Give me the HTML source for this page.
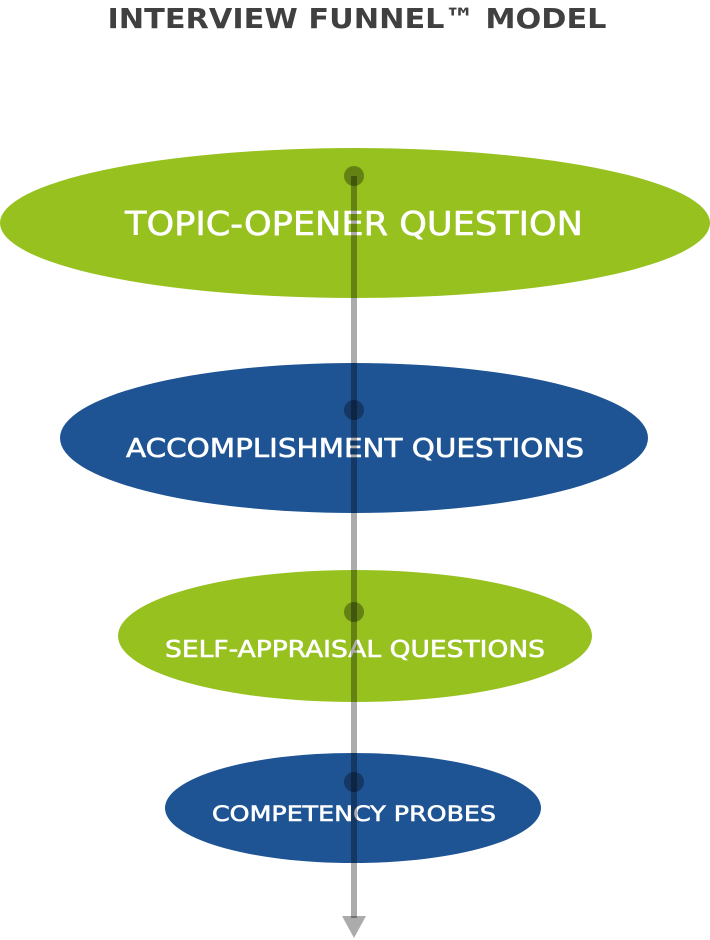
<!DOCTYPE html>
<html><head><meta charset="utf-8"><style>
html,body{margin:0;padding:0;background:#fff;width:710px;height:940px;overflow:hidden}
svg text{font-family:"DejaVu Sans","Liberation Sans",sans-serif;}
</style></head><body>
<svg width="710" height="940" viewBox="0 0 710 940" xmlns="http://www.w3.org/2000/svg">
<text x="357" y="28" text-anchor="middle" font-size="28" font-weight="bold" fill="#404040" textLength="499" lengthAdjust="spacingAndGlyphs">INTERVIEW FUNNEL™ MODEL</text>
<ellipse cx="355" cy="223" rx="355" ry="75" fill="#96c11f"/>
<ellipse cx="354" cy="438" rx="294" ry="75" fill="#1e5394"/>
<ellipse cx="355" cy="636" rx="237" ry="66" fill="#96c11f"/>
<ellipse cx="353" cy="808" rx="188" ry="55" fill="#1e5394"/>
<g fill="#fff" style="stroke:#fff;stroke-width:0.6">
<text x="354" y="235" text-anchor="middle" font-size="33" textLength="458" lengthAdjust="spacingAndGlyphs">TOPIC-OPENER QUESTION</text>
<text x="355" y="457" text-anchor="middle" font-size="26" textLength="458" lengthAdjust="spacingAndGlyphs">ACCOMPLISHMENT QUESTIONS</text>
<text x="355" y="657" text-anchor="middle" font-size="23" textLength="380" lengthAdjust="spacingAndGlyphs">SELF-APPRAISAL QUESTIONS</text>
<text x="354" y="821" text-anchor="middle" font-size="21" textLength="284" lengthAdjust="spacingAndGlyphs">COMPETENCY PROBES</text>
</g>
<g fill="rgba(0,0,0,0.33)">
<rect x="351" y="176" width="6" height="742"/>
<polygon points="342,916 366,916 354,938"/>
<circle cx="354" cy="176" r="10"/>
<circle cx="354" cy="410" r="10"/>
<circle cx="354" cy="612" r="10"/>
<circle cx="354" cy="782" r="10"/>
</g>
</svg>
</body></html>
